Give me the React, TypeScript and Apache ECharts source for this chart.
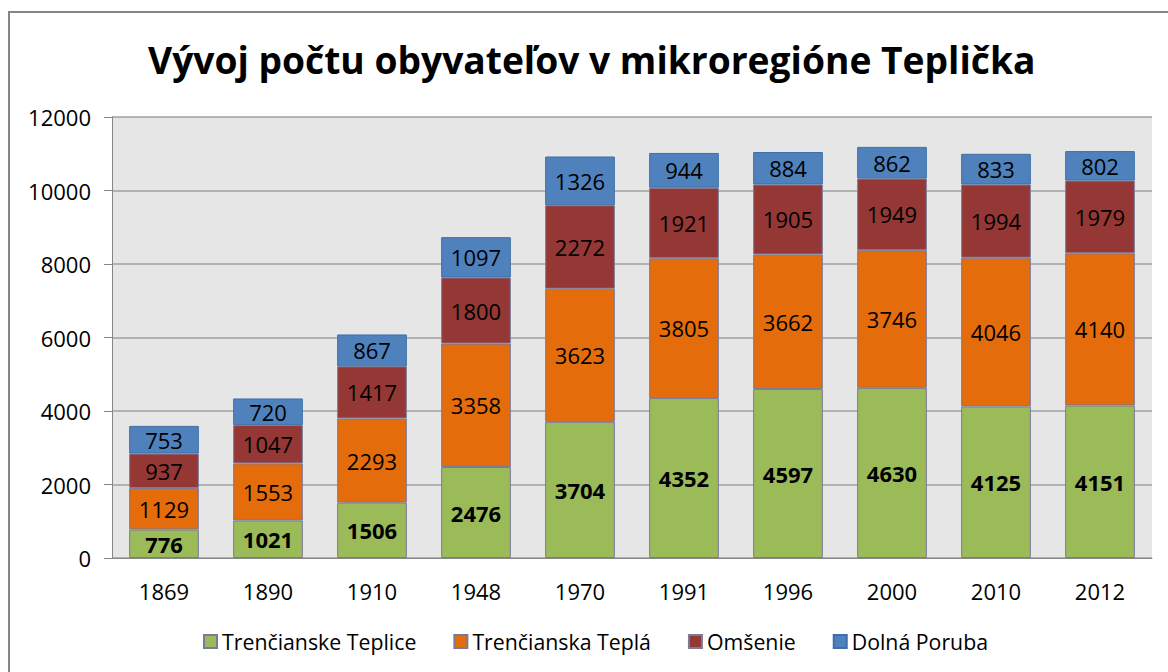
import React, { useEffect, useRef } from "react";
import * as echarts from "echarts";

const title = "Vývoj počtu obyvateľov v mikroregióne Teplička";
const years = ["1869", "1890", "1910", "1948", "1970", "1991", "1996", "2000", "2010", "2012"];
const seriesNames = ["Trenčianske Teplice", "Trenčianska Teplá", "Omšenie", "Dolná Poruba"];
const trencianskeTeplice = [776, 1021, 1506, 2476, 3704, 4352, 4597, 4630, 4125, 4151];
const trencianskaTepla = [1129, 1553, 2293, 3358, 3623, 3805, 3662, 3746, 4046, 4140];
const omsenie = [937, 1047, 1417, 1800, 2272, 1921, 1905, 1949, 1994, 1979];
const dolnaPoruba = [753, 720, 867, 1097, 1326, 944, 884, 862, 833, 802];
const colors = ["#9BBB59", "#E46C0A", "#953735", "#4F81BD"];

const FONT = "'Open Sans', sans-serif";

export default function App() {
  const ref = useRef<HTMLDivElement>(null);
  useEffect(() => {
    const chart = echarts.init(ref.current!, null, { renderer: "svg" });
    const data = [trencianskeTeplice, trencianskaTepla, omsenie, dolnaPoruba];
    chart.setOption({
      animation: false,
      backgroundColor: "#ffffff",
      textStyle: { fontFamily: FONT },
      title: {
        text: title,
        left: 143,
        top: 36,
        textStyle: { fontFamily: FONT, fontSize: 37.2, fontWeight: "bold", color: "#000" },
      },
      graphic: [
        {
          type: "rect",
          shape: { x: 9, y: 12, width: 1180, height: 700 },
          style: { fill: "none", stroke: "#868686", lineWidth: 2 },
          silent: true,
        },
      ],
      legend: {
        bottom: 15,
        left: 198,
        itemWidth: 13,
        itemHeight: 13,
        itemGap: 37,
        icon: "rect",
        textStyle: { fontFamily: FONT, fontSize: 21.3, color: "#000" },
        data: seriesNames,
      },
      grid: { left: 112, right: 16, top: 117, bottom: 114, containLabel: false, show: true, backgroundColor: "#E6E6E6", borderWidth: 0 },
      xAxis: {
        type: "category",
        data: years,
        axisLine: { show: true, lineStyle: { color: "#868686", width: 1 } },
        axisTick: { show: false },
        axisLabel: { fontFamily: FONT, fontSize: 22, color: "#000", margin: 22 },
      },
      yAxis: {
        type: "value",
        min: 0,
        max: 12000,
        interval: 2000,
        axisLine: { show: true, lineStyle: { color: "#868686" } },
        axisTick: { show: true, length: 8, lineStyle: { color: "#868686" } },
        splitLine: { lineStyle: { color: "#A0A0A0", width: 1.5 } },
        axisLabel: { fontFamily: FONT, fontSize: 22, color: "#000", margin: 21, formatter: (v: number) => String(v) },
      },
      series: data.map((d, i) => ({
        name: seriesNames[i],
        type: "bar",
        stack: "total",
        data: d,
        barWidth: "67%",
        itemStyle: { color: colors[i], borderColor: i === 3 ? "#3F6FA8" : "#7A7A9A", borderWidth: 1 },
        label: {
          show: true,
          position: "inside",
          fontFamily: FONT,
          fontSize: 22,
          fontWeight: i === 0 ? "bold" : "normal",
          color: "#000",
        },
      })),
    });
    return () => chart.dispose();
  }, []);
  return <div ref={ref} style={{ width: 1168, height: 672, position: "absolute", left: 0, top: 0 }} />;
}
